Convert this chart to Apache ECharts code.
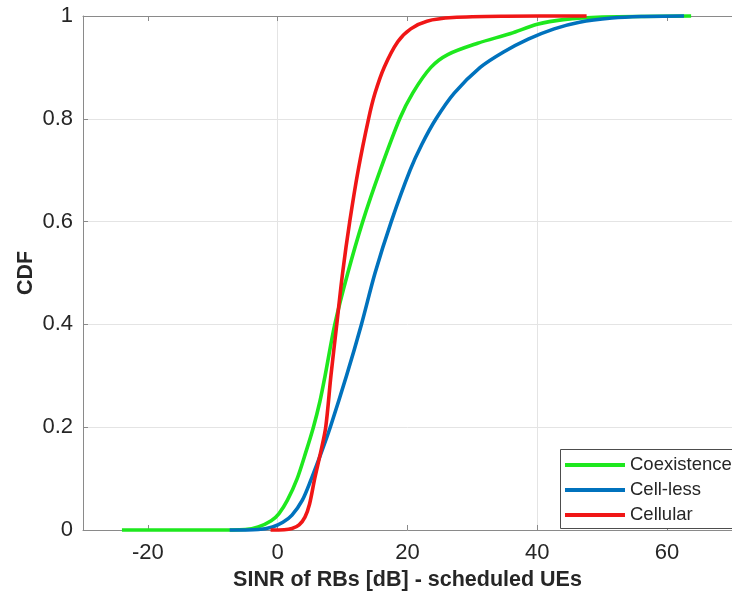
<!DOCTYPE html>
<html>
<head>
<meta charset="utf-8">
<title>CDF of SINR</title>
<script src="https://cdn.jsdelivr.net/npm/echarts@6/dist/echarts.min.js"></script>
<style>
  html, body { margin: 0; padding: 0; background: #fff; }
  #chart { width: 732px; height: 601px; }
</style>
</head>
<body>
<div id="chart"></div>
<script>
// SINR (dB) / CDF sample points for each deployment
const coexSinr = [-24, -10, -5, -3, -1, 0.2, 1.5, 3.0, 4.3, 5.5, 6.5, 7.3, 8.8, 10.8, 13.1, 15.8, 18.8, 20.8, 23.6, 26.2, 30.8, 35.9, 40, 44, 50, 63.7];
const coexCdf  = [0, 0, 0.001, 0.006, 0.018, 0.032, 0.058, 0.1, 0.15, 0.2, 0.25, 0.3, 0.4, 0.5, 0.6, 0.7, 0.8, 0.85, 0.9, 0.925, 0.947, 0.966, 0.984, 0.993, 0.998, 1];

const celllessSinr = [-7.4, -3, -0.8, 0.8, 2.2, 3.8, 5.2, 6.7, 8.1, 10.6, 12.9, 15.0, 17.5, 20.4, 22.2, 24.4, 27.2, 31.2, 34.8, 38.6, 42.6, 46.5, 51.5, 56, 62.6];
const celllessCdf  = [0, 0.001, 0.006, 0.015, 0.029, 0.058, 0.1, 0.15, 0.2, 0.3, 0.4, 0.5, 0.6, 0.7, 0.75, 0.8, 0.85, 0.9, 0.93, 0.955, 0.975, 0.988, 0.996, 0.999, 1];

const cellularSinr = [-1.1, 1, 2.2, 3.3, 4.2, 4.9, 5.7, 6.6, 7.4, 8.2, 9.1, 10.0, 11.1, 12.4, 14.0, 15.0, 16.4, 18.5, 20.5, 23, 27, 35, 47.6];
const cellularCdf  = [0, 0.0005, 0.003, 0.01, 0.025, 0.05, 0.1, 0.15, 0.2, 0.3, 0.4, 0.5, 0.6, 0.7, 0.8, 0.85, 0.9, 0.95, 0.975, 0.99, 0.997, 0.9995, 1];

const seriesNames = ['Coexistence', 'Cell-less', 'Cellular'];
const xTickValues = [-20, 0, 20, 40, 60];

const pairs = (xs, ys) => xs.map((x, i) => [x, ys[i]]);

const FONT = '"Liberation Sans", Arial, Helvetica, sans-serif';
const TEXT = '#262626';
const AXIS = '#8a8a8a';
const GRID = '#e4e4e4';

const chart = echarts.init(document.getElementById('chart'), null, { renderer: 'canvas' });

const lineSeries = (name, data, color) => ({
  name,
  type: 'line',
  data,
  showSymbol: false,
  smooth: 0.3,
  clip: false,
  lineStyle: { color, width: 3.6 },
  itemStyle: { color },
  emphasis: { disabled: true }
});

chart.setOption({
  animation: false,
  backgroundColor: '#fff',
  textStyle: { fontFamily: FONT },
  grid: { left: 83, right: -5, top: 16, bottom: 71, containLabel: false },
  // legend frame runs past the right edge of the canvas
  graphic: [{
    type: 'rect',
    z: 3,
    silent: true,
    shape: { x: 560.5, y: 449.5, width: 220, height: 79 },
    style: { fill: '#fff', stroke: '#4d4d4d', lineWidth: 1 }
  }],
  legend: {
    orient: 'vertical',
    left: 560,
    top: 449,
    padding: [6, 10, 3, 5],
    itemGap: 5,
    itemWidth: 60,
    itemHeight: 4,
    icon: 'rect',
    z: 4,
    backgroundColor: 'transparent',
    borderWidth: 0,
    textStyle: { fontFamily: FONT, fontSize: 18.5, color: TEXT, lineHeight: 20 },
    data: seriesNames
  },
  xAxis: [
    {
      type: 'value',
      min: -30,
      max: 70,
      interval: 10,
      name: 'SINR of RBs [dB] - scheduled UEs',
      nameLocation: 'middle',
      nameGap: 38,
      nameTextStyle: { fontFamily: FONT, fontSize: 21.5, fontWeight: 'bold', color: TEXT },
      axisLine: { show: true, onZero: false, lineStyle: { color: AXIS, width: 1 } },
      axisTick: { show: true, inside: true, length: 5, customValues: xTickValues, lineStyle: { color: AXIS } },
      axisLabel: {
        customValues: xTickValues,
        fontFamily: FONT, fontSize: 22, color: TEXT, margin: 12
      },
      splitLine: { show: true, lineStyle: { color: ['rgba(0,0,0,0)', GRID], width: 1 } }
    },
    {
      type: 'value',
      position: 'top',
      min: -30,
      max: 70,
      interval: 10,
      axisLine: { show: true, onZero: false, lineStyle: { color: AXIS, width: 1 } },
      axisTick: { show: true, inside: true, length: 5, customValues: xTickValues, lineStyle: { color: AXIS } },
      axisLabel: { show: false },
      splitLine: { show: false }
    }
  ],
  yAxis: {
    type: 'value',
    min: 0,
    max: 1,
    interval: 0.2,
    name: 'CDF',
    nameLocation: 'middle',
    nameGap: 46,
    nameMoveOverlap: false,
    nameTextStyle: { fontFamily: FONT, fontSize: 21.5, fontWeight: 'bold', color: TEXT },
    axisLine: { show: true, onZero: false, lineStyle: { color: AXIS, width: 1 } },
    axisTick: { show: true, inside: true, length: 5, lineStyle: { color: AXIS } },
    axisLabel: { fontFamily: FONT, fontSize: 22, color: TEXT, margin: 10 },
    splitLine: { show: true, lineStyle: { color: GRID, width: 1 } }
  },
  series: [
    lineSeries(seriesNames[0], pairs(coexSinr, coexCdf), '#1ee81e'),
    lineSeries(seriesNames[1], pairs(celllessSinr, celllessCdf), '#0072bd'),
    lineSeries(seriesNames[2], pairs(cellularSinr, cellularCdf), '#f01616')
  ]
});
</script>
</body>
</html>
